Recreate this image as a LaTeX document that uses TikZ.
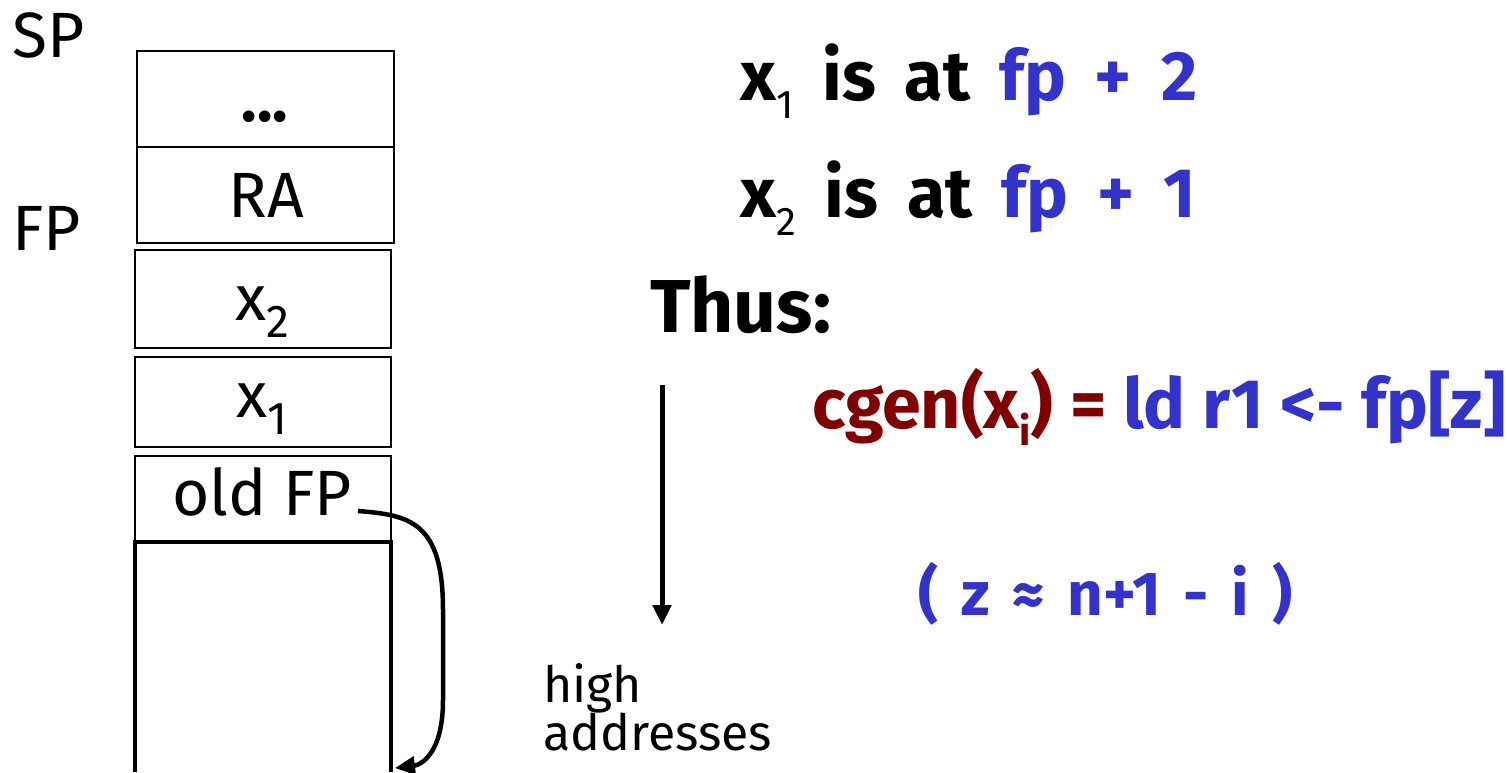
\documentclass[tikz,border=0pt]{standalone}
\usepackage{fontspec}
\setmainfont{Fira Sans}
\usetikzlibrary{arrows.meta}
\definecolor{cblue}{RGB}{51,51,204}
\definecolor{cred}{RGB}{128,0,0}
\newcommand\fsz[1]{\fontsize{#1}{#1}\selectfont}
\newcommand\lsub[3]{\raisebox{-#2pt}{\fsz{#1}#3}}
\newcommand\wsp[1]{\spaceskip=#1pt\relax}
\begin{document}
\begin{tikzpicture}[x=1pt,y=-1pt,
  cell/.style={draw,line width=2pt,inner sep=0pt,outer sep=0pt},
  celltxt/.style={anchor=base,inner sep=0pt,font=\fsz{64}},
  big/.style={font=\bfseries\fsz{70}\wsp{29},anchor=base west,inner sep=0pt},
  small/.style={font=\fsz{50},anchor=base west,inner sep=0pt},
  arr/.style={line width=5pt,-{Triangle[length=20pt,width=18pt]}}]
\useasboundingbox (0,0) rectangle (1507,772);
% stack cells
\node[cell,minimum width=257pt,minimum height=96pt] (cdots) at (265.5,99) {};
\node[cell,minimum width=257pt,minimum height=96pt] (cra) at (265.5,195) {};
\node[cell,minimum width=256pt,minimum height=98pt] (cx2) at (263,299) {};
\node[cell,minimum width=256pt,minimum height=90pt] (cx1) at (263,402) {};
\node[cell,minimum width=256pt,minimum height=86pt] (cold) at (263,499) {};
\draw[line width=4pt] (135,772) -- (135,542) -- (391,542) -- (391,772);
% cell texts
\node[celltxt] (tdots) at (265,121) {\textbf{...}};
\node[celltxt] (tra) at (266,217) {RA};
\node[celltxt] (tx2) at (262,320) {x\lsub{46}{17}{2}};
\node[celltxt] (tx1) at (262,417) {x\lsub{46}{17}{1}};
\node[celltxt] (told) at (262,515) {old FP};
\node[celltxt,anchor=base west] (sp) at (12,57) {SP};
\node[celltxt,anchor=base west] (fp) at (12,250) {FP};
% right texts
\node[big] (l1) at (740,100) {x\lsub{40}{18}{\mdseries 1} is at \textcolor{cblue}{fp + 2}};
\node[big] (l2) at (740,217) {x\lsub{40}{18}{\mdseries 2} is at \textcolor{cblue}{fp + 1}};
\node[big,font=\bfseries\fsz{75}] (thus) at (650,332) {Thus:};
\node[big,font=\bfseries\fsz{70}] (cgen) at (812,428) {\textcolor{cred}{cgen(x\lsub{40}{17}{i}) =} \textcolor{cblue}{ld r1 <- fp[z]}};
\node[big,font=\bfseries\fsz{62}\wsp{23},text=cblue] (zeq) at (918,615) {( z ≈ n+1 - i )};
\node[small] (high) at (543,702) {high};
\node[small] (addr) at (543,750) {addresses};
% arrows
\coordinate (vtop) at (662,385);
\coordinate (vbot) at (662,625);
\draw[arr] (vtop) -- (vbot);
\coordinate (cs) at (358,511);
\coordinate (ce) at (395,768);
\draw[arr,line width=4.5pt] (cs) .. controls (410,515) and (443,522) .. (443,610) -- (443,700) .. controls (443,755) and (420,765) .. (ce);
\end{tikzpicture}
\end{document}
